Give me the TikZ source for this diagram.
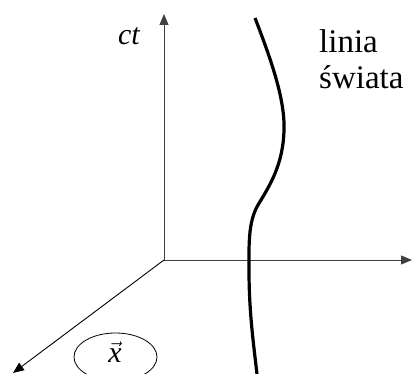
\documentclass[tikz,border=0pt]{standalone}
\usepackage{fontspec}
\setmainfont{Liberation Serif}
\usetikzlibrary{arrows.meta,shapes.geometric}
\begin{document}
\begin{tikzpicture}[x=1pt,y=-1pt,
  axis/.style={draw=black!75,line width=0.9pt,-{Triangle[length=11pt,width=9pt]}},
  wline/.style={line width=3.2pt,line cap=butt},
  lbl/.style={inner sep=0pt,font=\fontsize{30}{34}\selectfont}]
\useasboundingbox (0,0) rectangle (412,374);
\coordinate (O) at (164,260);
\coordinate (T) at (164,14);
\coordinate (X) at (412,260);
\coordinate (D) at (13,373);
\draw[axis] (O) -- (T);
\draw[axis] (O) -- (X);
\draw[axis,draw=black] (O) -- (D);
\node[lbl] (ct) at (129,36) {\itshape ct};
\node[draw,ellipse,line width=0.8pt,minimum width=83pt,minimum height=48pt,inner sep=0pt] (el) at (115.5,357) {};
\node[lbl] (vx) at (115,352) {$\vec{\mathit{x}}$};
\node[lbl,anchor=north west,align=left,font=\fontsize{33}{36}\selectfont] (wl) at (319,29) {linia\\świata};
\draw[wline] (255,18) .. controls (272,62) and (285,100) .. (284,130)
  .. controls (283,165) and (270,185) .. (258,205)
  .. controls (248,222) and (249,245) .. (249,270)
  .. controls (249,310) and (253,340) .. (257,374);
\end{tikzpicture}
\end{document}
